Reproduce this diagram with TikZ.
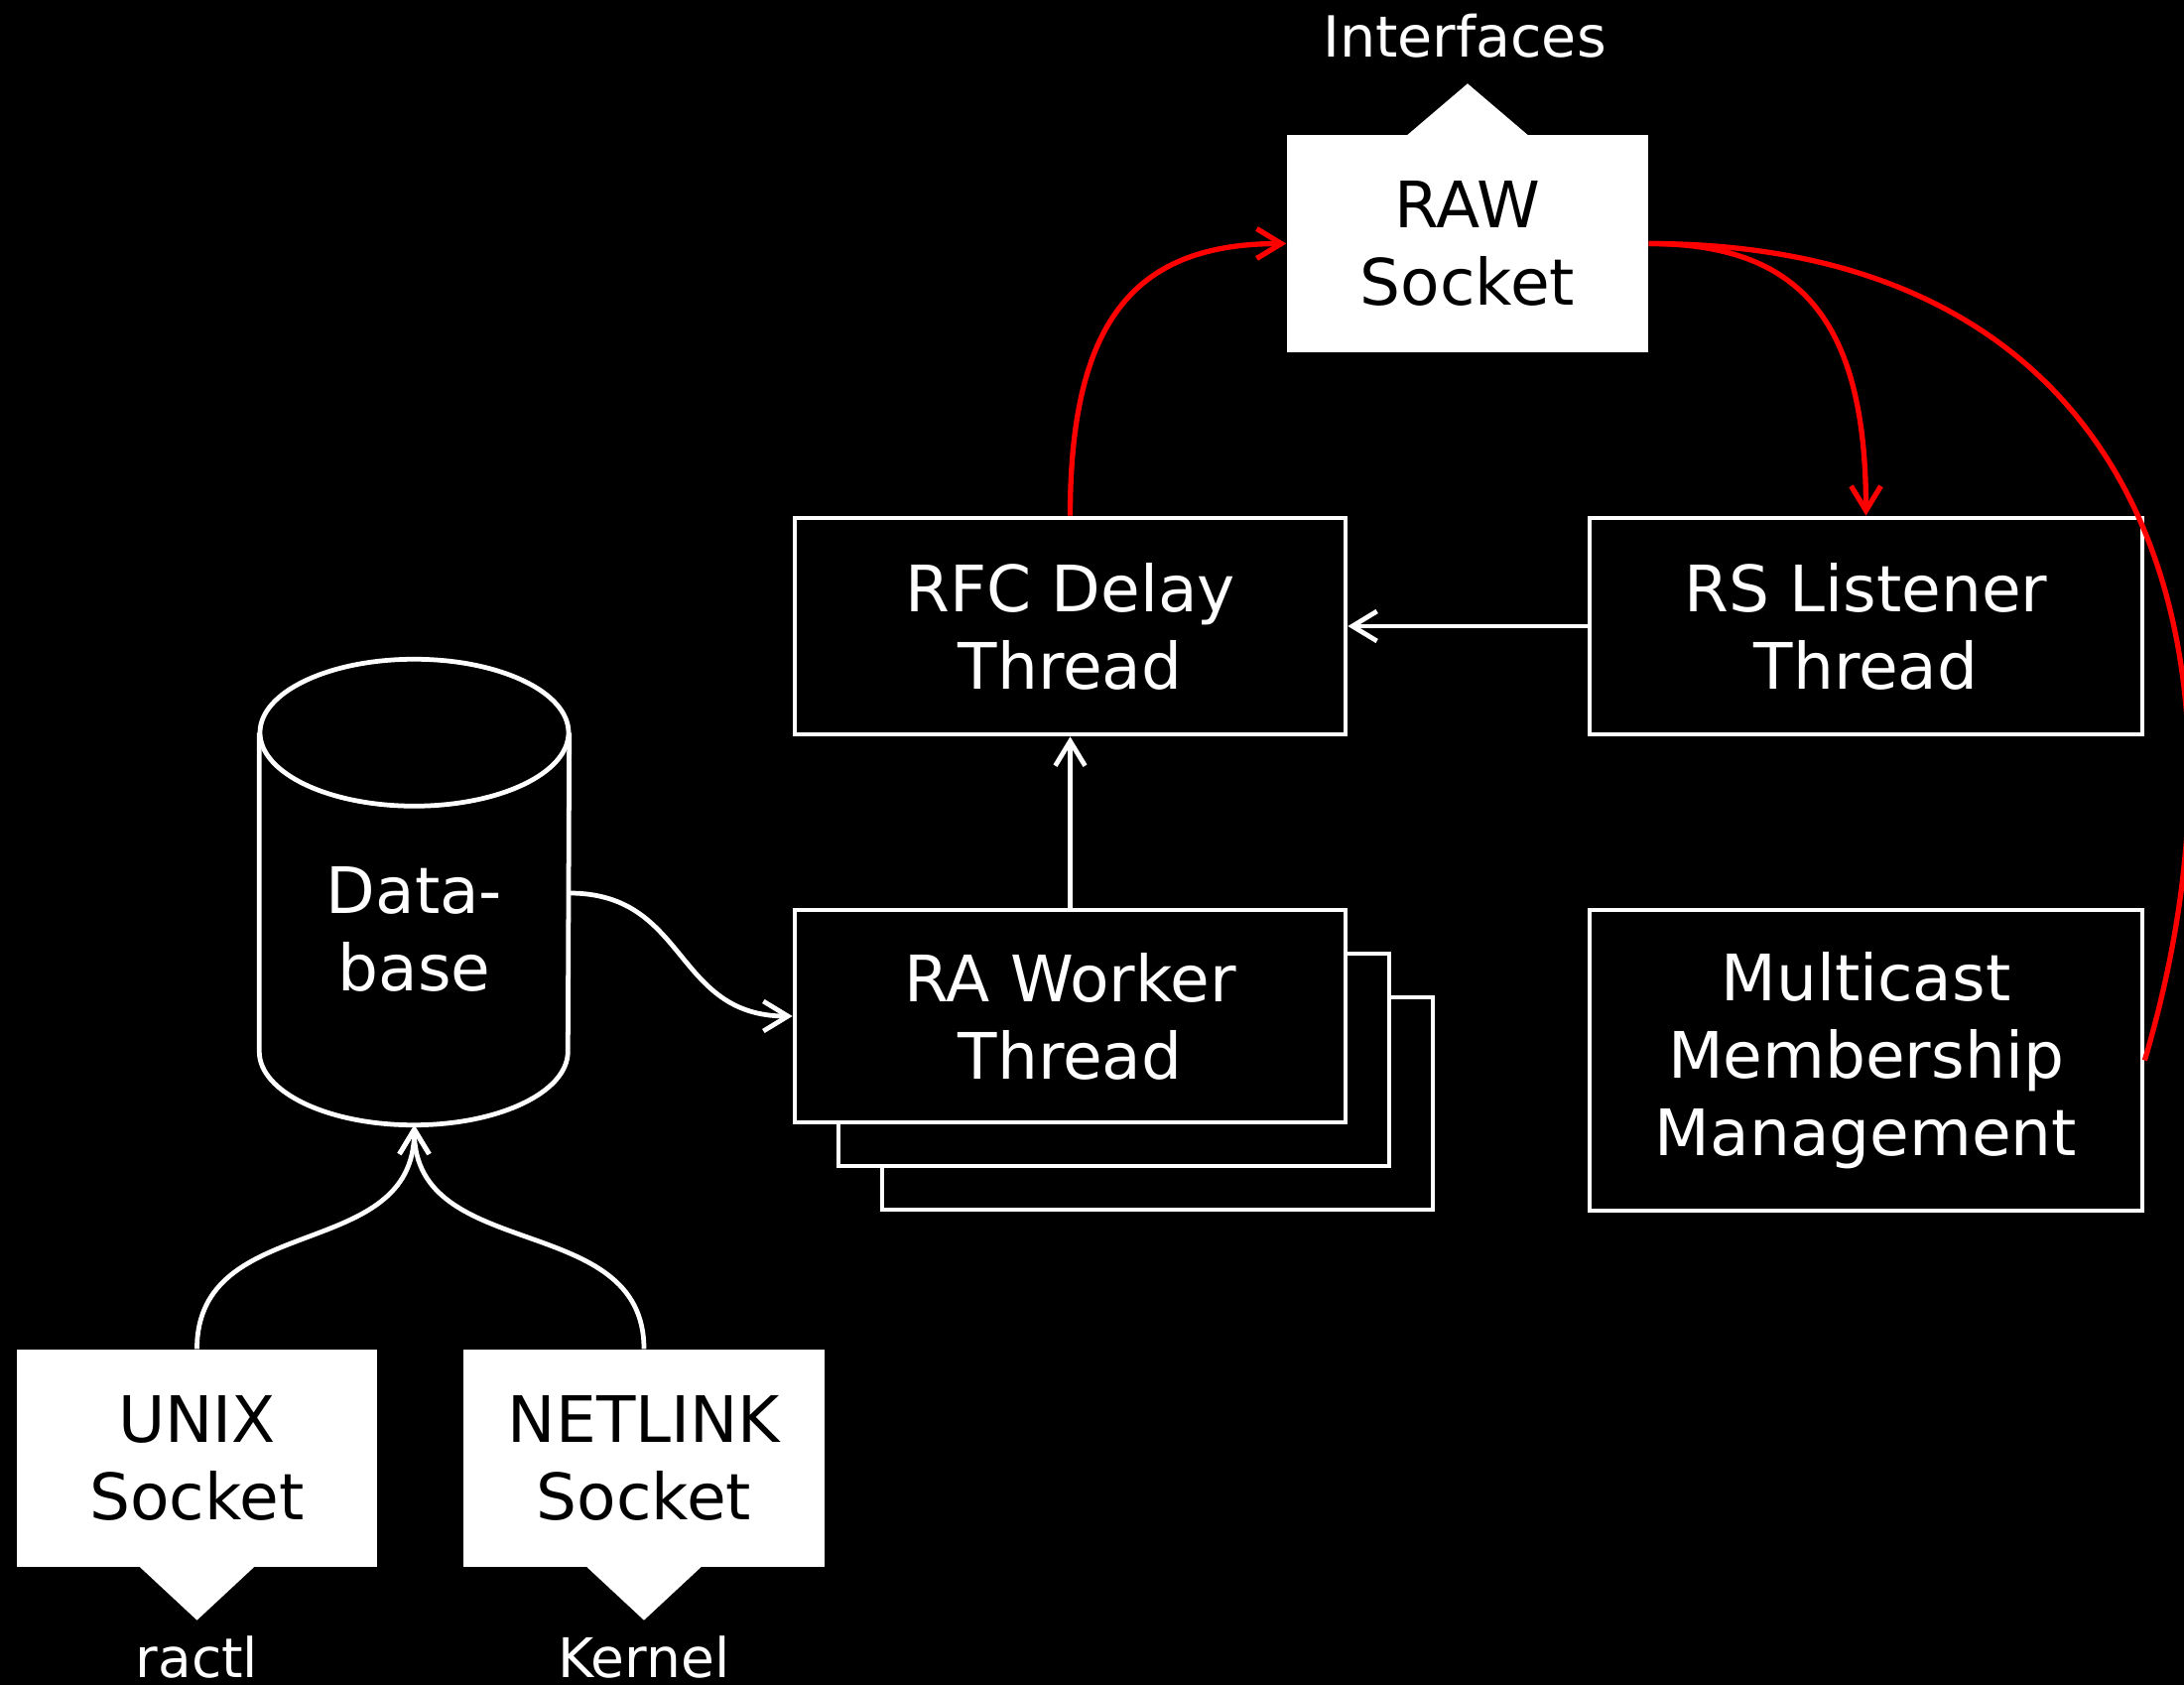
\documentclass[tikz,border=0pt]{standalone}
\usepackage{fontspec}
\setmainfont{DejaVu Sans}
\usetikzlibrary{arrows.meta,calc}
\begin{document}
\begin{tikzpicture}[x=0.2835pt, y=0.2835pt,
  wline/.style={draw=white, line width=1.35pt},
  box/.style={wline, fill=black, text=white, inner sep=0pt, align=center, font=\fontsize{18.3}{22.1}\selectfont},
  sock/.style={fill=white, text=black, inner sep=0pt, align=center, font=\fontsize{18.3}{22.1}\selectfont},
  lab/.style={text=white, inner sep=0pt},
  warr/.style={draw=white, line width=1.35pt, -{Straight Barb[length=7pt,width=8.5pt]}},
  rarr/.style={draw=red, line width=1.5pt, -{Straight Barb[length=7pt,width=8.5pt]}},
  rline/.style={draw=red, line width=1.5pt},
]
\fill[black] (0,0) rectangle (2201,-1698);
\useasboundingbox (0,0) rectangle (2201,-1698);

% socket boxes
\node[sock, minimum width=103.19pt, minimum height=62.09pt] (raw) at (1479,-245.5) {RAW\\Socket};
\fill[white] ($(raw.north)+(-61,-1)$) -- ($(raw.north)+(0,51)$) -- ($(raw.north)+(61,-1)$) -- cycle;
\node[lab, anchor=base, font=\fontsize{16.2}{19}\selectfont] (iface) at (1476,-58) {Interfaces};

\node[sock, minimum width=102.91pt, minimum height=62.09pt] (unix) at (198.5,-1469.5) {UNIX\\Socket};
\fill[white] ($(unix.south)+(-58,1)$) -- ($(unix.south)+(0,-53)$) -- ($(unix.south)+(58,1)$) -- cycle;
\node[lab, anchor=base, font=\fontsize{15.6}{18}\selectfont] (ractl) at (198.5,-1690) {ractl};

\node[sock, minimum width=103.19pt, minimum height=62.09pt] (netlink) at (649,-1469.5) {NETLINK\\Socket};
\fill[white] ($(netlink.south)+(-58,1)$) -- ($(netlink.south)+(0,-53)$) -- ($(netlink.south)+(58,1)$) -- cycle;
\node[lab, anchor=base, font=\fontsize{15.6}{18}\selectfont] (kernel) at (649,-1690) {Kernel};

% thread boxes
\node[box, minimum width=157.34pt, minimum height=61.80pt] (rfc) at (1078.5,-631) {RFC Delay\\Thread};
\node[box, minimum width=157.91pt, minimum height=61.80pt] (rs) at (1880.5,-631) {RS Listener\\Thread};
\node[box, minimum width=157.91pt, minimum height=85.90pt] (mm) at (1880.5,-1068.5) {Multicast\\Membership\\Management};

\node[box, minimum width=157.34pt, minimum height=60.67pt] (ra3) at (1166.5,-1112) {};
\node[box, minimum width=157.34pt, minimum height=60.67pt] (ra2) at (1122.5,-1068) {};
\node[box, minimum width=157.34pt, minimum height=60.67pt] (ra) at (1078.5,-1024) {RA Worker\\Thread};

% database cylinder
\node[text=white, inner sep=0pt, align=center, minimum width=88.17pt, minimum height=111.70pt,
      font=\fontsize{18.3}{22.1}\selectfont] (db) at (417.5,-936) {Data-\\base};
\draw[wline] (db.north) ellipse[x radius=155.5, y radius=74];
\draw[wline] (db.north west) -- ($(db.south west)+(0,74)$)
   arc[start angle=180, end angle=360, x radius=155.5, y radius=74] -- (db.north east);

% white connectors
\draw[warr] ($(db.east)+(0,36)$) .. controls +(120,0) and ($(ra.west)+(-120,0)$) .. (ra.west);
\draw[warr] (unix.north) .. controls +(0,140) and ($(db.south)+(0,-140)$) .. (db.south);
\draw[warr] (netlink.north) .. controls +(0,140) and ($(db.south)+(0,-140)$) .. (db.south);
\draw[warr] (ra.north) -- (rfc.south);
\draw[warr] (rs.west) -- (rfc.east);

% red connectors
\draw[rarr] (rfc.north) .. controls +(0,200) and ($(raw.west)+(-150,0)$) .. (raw.west);
\draw[rarr] (raw.east) .. controls +(150,0) and ($(rs.north)+(0,200)$) .. (rs.north);
\draw[rline] (mm.east) .. controls +(124,418) and ($(raw.east)+(499,0)$) .. (raw.east);
\end{tikzpicture}
\end{document}
